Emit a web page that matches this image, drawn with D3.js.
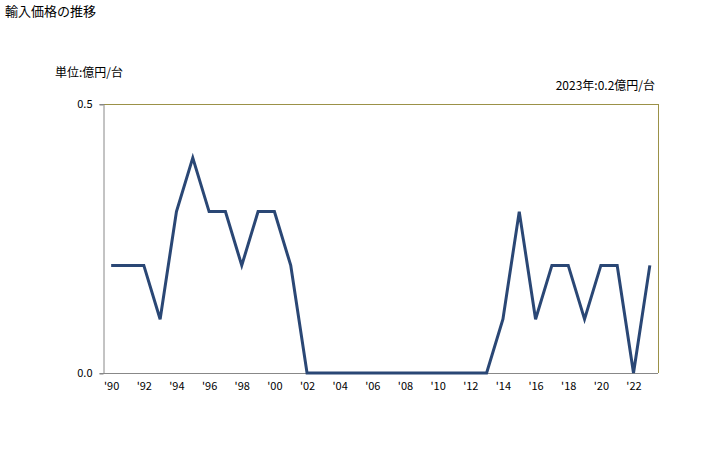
<!DOCTYPE html>
<html><head><meta charset="utf-8">
<script src="https://cdn.jsdelivr.net/npm/d3@7"></script>
<style>body{margin:0;background:#fff;font-family:"Noto Sans CJK JP","Noto Sans",sans-serif;}</style>
</head><body><svg id="c" width="728" height="450"></svg>
<script>
const years = d3.range(1990, 2024);
const values = [0.2,0.2,0.2,0.1,0.3,0.4,0.3,0.3,0.2,0.3,0.3,0.2,0,0,0,0,0,0,0,0,0,0,0,0,0.1,0.3,0.1,0.2,0.2,0.1,0.2,0.2,0,0.2];
const yTicks = [0, 0.5];
const xTickYears = d3.range(1990, 2024, 2);
const title = "輸入価格の推移";
const unitLabel = "単位:億円/台";
const latestLabel = "2023年:0.2億円/台";

const svg = d3.select("#c");
const L = 103, R = 658, T = 104, B = 373;
const x = d3.scalePoint().domain(years).range([L, R]).padding(0.5);
const y = d3.scaleLinear().domain([0, 0.5]).range([B, T]);
const font = '"Noto Sans CJK JP","Noto Sans",sans-serif';

svg.append("text").attr("x", 5).attr("y", 16).attr("font-size", 13).attr("font-family", font).attr("fill", "#000").text(title);
svg.append("text").attr("x", 55).attr("y", 77).attr("font-size", 12).attr("font-family", font).attr("fill", "#000").text(unitLabel);
svg.append("text").attr("x", 655).attr("y", 90).attr("text-anchor", "end").attr("font-size", 12).attr("font-family", font).attr("fill", "#000").text(latestLabel);

// frame: top & right olive, left & bottom gray
svg.append("line").attr("x1", L).attr("x2", R).attr("y1", T + 0.5).attr("y2", T + 0.5).attr("stroke", "#9b9148").attr("stroke-width", 1);
svg.append("line").attr("x1", R + 0.5).attr("x2", R + 0.5).attr("y1", T).attr("y2", B).attr("stroke", "#9b9148").attr("stroke-width", 1);

const yAxis = d3.axisLeft(y).tickValues(yTicks).tickFormat(d3.format(".1f")).tickSize(4).tickPadding(7);
const gy = svg.append("g").attr("transform", `translate(${L + 0.5},0)`).call(yAxis);
gy.select(".domain").attr("stroke", "#888");
gy.selectAll(".tick line").attr("stroke", "#888");
gy.selectAll(".tick line").attr("transform", "translate(0,0.5)");
gy.selectAll("text").attr("font-size", 11).attr("font-family", font).attr("fill", "#000");

const xAxis = d3.axisBottom(x).tickValues(xTickYears).tickFormat(d => "'" + String(d).slice(2)).tickSize(0).tickPadding(9);
const gx = svg.append("g").attr("transform", `translate(0,${B + 0.5})`).call(xAxis);
gx.select(".domain").attr("stroke", "#888").attr("d", `M${L},0H${R}`);
gx.selectAll("text").attr("font-size", 11).attr("font-family", font).attr("fill", "#000");

const line = d3.line().x((d, i) => x(years[i])).y(d => y(d));
svg.append("path").datum(values).attr("d", line).attr("fill", "none").attr("stroke", "#2a4775").attr("stroke-width", 3).attr("stroke-linejoin", "miter");
</script></body></html>
